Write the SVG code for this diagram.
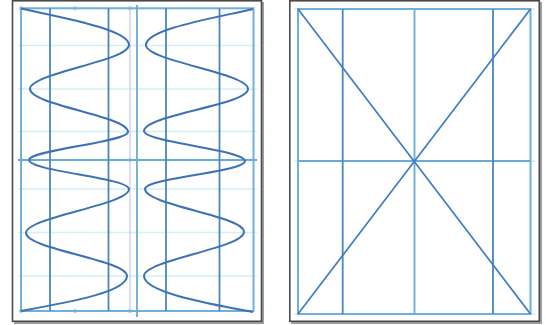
<svg xmlns="http://www.w3.org/2000/svg" width="546" height="325" viewBox="0 0 546 325">
<style>
.frame{fill:#ffffff;stroke:#4a4a4a;stroke-width:1.6}
.shadow{fill:none;stroke:#a0a0a0;stroke-width:2}
.guide{stroke:#d4eef5;stroke-width:1.6;fill:none}
.edge{stroke:#6fb0dc;stroke-width:2;fill:none}
.col{stroke:#4a86c5;stroke-width:1.8;fill:none}
.mid{stroke:#6aaad8;stroke-width:1.8;fill:none}
.curve{stroke:#3d72b5;stroke-width:2;fill:none}
.sel{stroke:#c6c6ec;stroke-width:1.2;fill:none}
.handle{fill:#ffffff;stroke:#c6c6ec;stroke-width:1}
.diag{stroke:#3f7dc2;stroke-width:1.7;fill:none}
</style>
<rect width="546" height="325" fill="#ffffff"/>

<g id="left-panel">
  <polyline class="shadow" points="263,2 263,323 14,323"/>
  <rect class="frame" x="12.5" y="0.8" width="249" height="320.5"/>
  <g id="left-guides">
    <line class="guide" x1="18" y1="45.5" x2="257" y2="45.5"/>
    <line class="guide" x1="18" y1="89" x2="257" y2="89"/>
    <line class="guide" x1="18" y1="131.5" x2="257" y2="131.5"/>
    <line class="guide" x1="18" y1="189" x2="257" y2="189"/>
    <line class="guide" x1="18" y1="232.5" x2="257" y2="232.5"/>
    <line class="guide" x1="18" y1="276" x2="257" y2="276"/>
  </g>
  <g id="left-selection">
    <rect class="sel" x="21" y="8.3" width="109" height="302.7"/>
    <circle class="handle" cx="21" cy="8.3" r="1.8"/>
    <circle class="handle" cx="75" cy="8.3" r="1.8"/>
    <circle class="handle" cx="130" cy="8.3" r="1.8"/>
    <circle class="handle" cx="21" cy="160" r="1.8"/>
    <circle class="handle" cx="130" cy="160" r="1.8"/>
    <circle class="handle" cx="21" cy="311" r="1.8"/>
    <circle class="handle" cx="75" cy="311" r="1.8"/>
    <circle class="handle" cx="130" cy="311" r="1.8"/>
  </g>
  <g id="left-grid">
    <rect class="edge" x="21" y="8.3" width="232.5" height="302.7"/>
    <line class="mid" x1="18" y1="160" x2="257" y2="160"/>
    <line class="mid" x1="137" y1="5" x2="137" y2="317"/>
    <line class="col" x1="50" y1="8.3" x2="50" y2="311"/>
    <line class="col" x1="108.5" y1="8.3" x2="108.5" y2="311"/>
    <line class="col" x1="166" y1="8.3" x2="166" y2="311"/>
    <line class="col" x1="219.5" y1="8.3" x2="219.5" y2="311"/>
  </g>
  <g id="left-wave">
    <path class="curve" d="M21,8.5 C58,17 129,29 129,45 C129,61 30,73 30,89 C30,105 128,116 128,132 C128,142 29,150 29,160 C29,171 129,178 129,189 C129,205 26,217 26,233 C26,249 127,260 127,276 C127,292 70,302 21,311"/>
  </g>
  <g id="right-wave">
    <path class="curve" d="M253,9 C215,18 146,29 146,45 C146,61 248,73 248,89 C248,105 144,115 144,131 C144,142 245,150 245,161 C245,172 145,178 145,189 C145,205 244,216 244,232 C244,248 144,260 144,276 C144,292 205,303 253,312"/>
  </g>
</g>

<g id="right-panel">
  <polyline class="shadow" points="541,2 541,323 291,323"/>
  <rect class="frame" x="289.8" y="0.8" width="249.5" height="320.5"/>
  <g id="right-guides">
    <line class="guide" x1="294" y1="9" x2="535" y2="9"/>
    <line class="guide" x1="294" y1="314" x2="535" y2="314"/>
    <line class="guide" x1="294" y1="161" x2="535" y2="161"/>
  </g>
  <g id="right-grid">
    <rect class="edge" x="298" y="9" width="232.5" height="305"/>
    <line class="mid" x1="298" y1="161" x2="530.5" y2="161"/>
    <line class="mid" x1="414.5" y1="9" x2="414.5" y2="314"/>
    <line class="col" x1="342.7" y1="9" x2="342.7" y2="314"/>
    <line class="col" x1="493" y1="9" x2="493" y2="314"/>
  </g>
  <g id="diagonals">
    <line class="diag" x1="298" y1="9" x2="530.5" y2="314"/>
    <line class="diag" x1="530.5" y1="9" x2="298" y2="314"/>
  </g>
</g>
</svg>
